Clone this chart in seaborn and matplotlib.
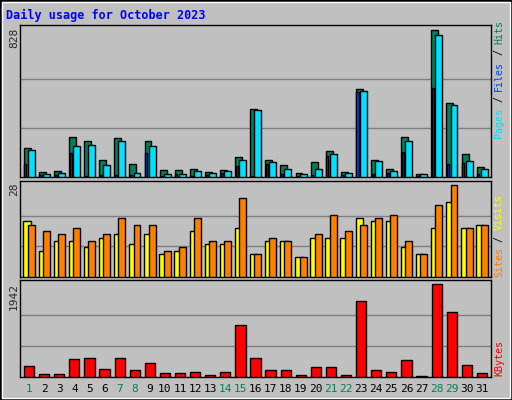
import matplotlib
matplotlib.use("Agg")
import matplotlib.pyplot as plt
import seaborn as sns
import pandas as pd
import numpy as np
from matplotlib.patches import Rectangle

days = list(range(1, 32))
weekend = [1, 7, 8, 14, 15, 21, 22, 28, 29]
hits = [165,30,36,227,204,97,221,75,204,41,41,47,30,41,114,384,97,69,24,86,148,30,496,97,47,227,19,828,418,131,58]
pages = [154,19,24,176,182,69,204,24,176,19,19,36,24,36,97,378,86,47,19,47,131,24,485,92,36,204,19,800,406,92,47]
files = [75,13,13,137,7,13,13,13,137,7,19,7,13,24,64,7,75,19,7,13,120,13,480,19,24,142,7,502,75,81,19]
sites = [17,8,11,11,9,12,13,10,13,7,8,14,10,10,15,7,11,11,6,12,12,12,18,17,17,9,7,15,23,15,16]
visits = [16,14,13,15,11,13,18,16,16,8,9,18,11,11,24,7,12,11,6,13,19,14,16,18,19,11,7,22,28,15,16]
kbytes = [220,71,71,369,390,177,390,156,284,92,92,113,50,113,1092,390,156,156,50,199,199,50,1581,156,113,347,21,1942,1368,241,92]

sns.set_style("white")
plt.rcParams['font.family'] = ['DejaVu Sans Mono', 'DejaVu Sans']
BG = "#c0c0c0"
fig = plt.figure(figsize=(5.12, 4.0), dpi=100, facecolor=BG)
fig.patches.append(Rectangle((0, 0), 1, 1, transform=fig.transFigure, fill=False, ec="black", lw=2))
fig.patches.append(Rectangle((2/512, 2/400), 508/512, 396/400, transform=fig.transFigure, fill=False, ec="white", lw=1))
fig.text(6/512, 1-15/400, "Daily usage for October 2023", color="#0000ff", fontsize=8.5, fontweight="bold", va="center")

L, W = 20/512, 471/512
def mk(top, bot):
    ax = fig.add_axes([L, 1-bot/400, W, (bot-top)/400])
    ax.set_facecolor(BG)
    for s in ax.spines.values():
        s.set_color("black"); s.set_linewidth(1)
    ax.set_xticks([]); ax.set_yticks([])
    return ax

def bars(ax, vals, off, width, color):
    df = pd.DataFrame({"x": np.array(days) + off, "y": vals})
    sns.barplot(data=df, x="x", y="y", native_scale=True, width=width, color=color,
                edgecolor="black", linewidth=1, saturation=1, ax=ax, zorder=3)
    ax.set_xlabel(""); ax.set_ylabel("")
    ax.set_xticks([]); ax.set_yticks([])

def grid(ax, mx):
    for f in (1/3, 2/3):
        ax.axhline(mx*f, color="#808080", lw=1, zorder=1)

ax1 = mk(25, 177)
grid(ax1, 828)
bars(ax1, hits, -0.12, 0.46, "#00805c")
bars(ax1, pages, 0.15, 0.46, "#00e0ff")
bars(ax1, files, -0.24, 0.14, "#0040ff")
ax1.set_ylim(0, 828*1.035)
ax1.set_xlim(0.4, 31.6)

ax2 = mk(181, 277)
grid(ax2, 28)
bars(ax2, sites, -0.12, 0.5, "#ffff00")
bars(ax2, visits, 0.15, 0.46, "#ff8000")
ax2.set_ylim(0, 28*1.045)
ax2.set_xlim(0.4, 31.6)

ax3 = mk(280, 377)
grid(ax3, 1942)
bars(ax3, kbytes, 0.0, 0.68, "#ff0000")
ax3.set_ylim(0, 1942*1.045)
ax3.set_xlim(0.4, 31.6)

fs = 8
fig.text(14/512, 1-28/400, "828", rotation=90, ha="center", va="top", fontsize=fs)
fig.text(14/512, 1-183/400, "28", rotation=90, ha="center", va="top", fontsize=fs)
fig.text(14/512, 1-283/400, "1942", rotation=90, ha="center", va="top", fontsize=fs)

rfs = 7.2
cw = 5.9
def stack(x, ybot, parts):
    y = ybot
    for t, c in parts:
        fig.text(x/512, 1-y/400, t, rotation=90, ha="center", va="bottom", fontsize=rfs, color=c)
        y -= len(t) * cw
stack(499, 138, [("Pages", "#00e0ff"), (" / ", "#000000"), ("Files", "#0040ff"), (" / ", "#000000"), ("Hits", "#00805c")])
stack(499, 277, [("Sites", "#ff8000"), (" / ", "#000000"), ("Visits", "#ffff00")])
fig.text(499/512, 1-376/400, "KBytes", rotation=90, ha="center", va="bottom", fontsize=rfs, color="#ff0000")

for d in days:
    x = L + W * (d - 0.4) / 31.2
    fig.text(x, 1-389/400, str(d), ha="center", va="center", fontsize=fs,
             color="#00805c" if d in weekend else "black")

fig.savefig("out.png", dpi=100, facecolor=BG)
